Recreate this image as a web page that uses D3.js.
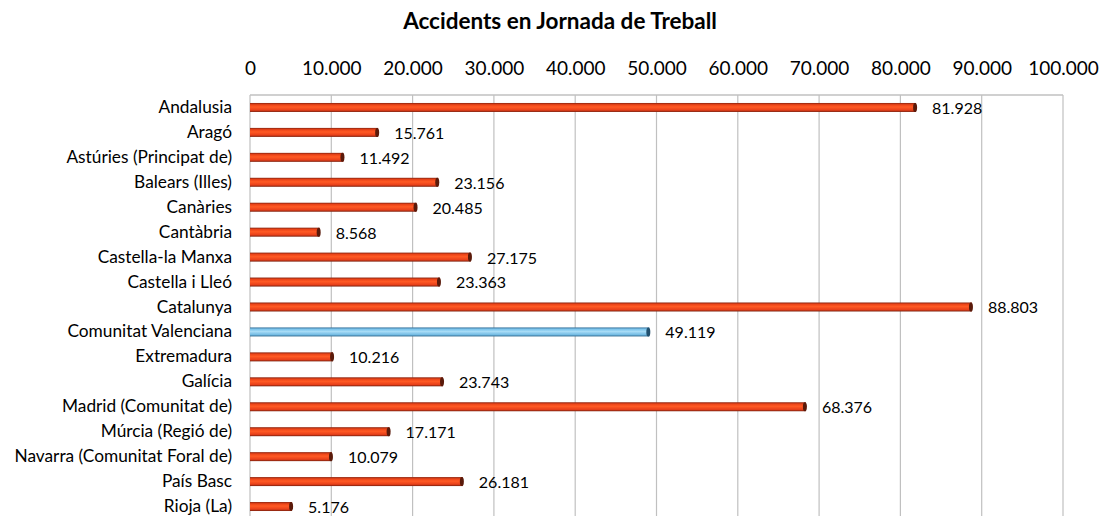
<!DOCTYPE html>
<html lang="ca">
<head>
  <meta charset="UTF-8">
  <title>Accidents en Jornada de Treball</title>
  <script src="https://d3js.org/d3.v7.min.js"></script>
  <style>
    body { margin: 0; background: #fff; }
    text { font-family: Lato, "Open Sans", sans-serif; fill: #000; }
  </style>
</head>
<body>
<script>
  const regions = ["Andalusia", "Aragó", "Astúries (Principat de)", "Balears (Illes)", "Canàries",
    "Cantàbria", "Castella-la Manxa", "Castella i Lleó", "Catalunya", "Comunitat Valenciana",
    "Extremadura", "Galícia", "Madrid (Comunitat de)", "Múrcia (Regió de)",
    "Navarra (Comunitat Foral de)", "País Basc", "Rioja (La)"];
  const accidents = [81928, 15761, 11492, 23156, 20485, 8568, 27175, 23363, 88803, 49119,
    10216, 23743, 68376, 17171, 10079, 26181, 5176];
  const highlight = "Comunitat Valenciana";
  const ticks = [0, 10000, 20000, 30000, 40000, 50000, 60000, 70000, 80000, 90000, 100000];

  const width = 1103, height = 516;
  const margin = {top: 95, left: 250, right: 40};
  const rowH = 24.94;
  const plotH = rowH * regions.length;

  const fmt = v => d3.format(",")(v).replace(/,/g, ".");

  const svg = d3.select("body").append("svg")
    .attr("width", width)
    .attr("height", height);

  const defs = svg.append("defs");
  function grad(id, stops) {
    const g = defs.append("linearGradient").attr("id", id)
      .attr("x1", 0).attr("y1", 0).attr("x2", 0).attr("y2", 1);
    stops.forEach(s => g.append("stop").attr("offset", s[0]).attr("stop-color", s[1]));
  }
  grad("gRed", [[0, "#8a2410"], [0.2, "#ec4418"], [0.45, "#ff5a24"], [0.8, "#e8401a"], [1, "#7a200e"]]);
  grad("gBlue", [[0, "#35729b"], [0.2, "#7cc4ec"], [0.45, "#a8dcf6"], [0.8, "#74bce4"], [1, "#2f6a90"]]);

  const x = d3.scaleLinear()
    .domain([0, 100000])
    .range([margin.left, width - margin.right]);

  const y = d3.scaleBand()
    .domain(regions)
    .range([margin.top, margin.top + plotH]);

  svg.append("text")
    .attr("x", 560)
    .attr("y", 29)
    .attr("text-anchor", "middle")
    .style("font-size", "22.5px")
    .style("font-weight", "bold")
    .text("Accidents en Jornada de Treball");

  // gridlines
  svg.append("g")
    .selectAll("line")
    .data(ticks)
    .join("line")
    .attr("x1", d => x(d)).attr("x2", d => x(d))
    .attr("y1", margin.top).attr("y2", margin.top + plotH)
    .attr("stroke", "#c0c0c0")
    .attr("stroke-width", 1.2);

  svg.append("line")
    .attr("x1", x(0)).attr("x2", x(100000))
    .attr("y1", margin.top).attr("y2", margin.top)
    .attr("stroke", "#c0c0c0")
    .attr("stroke-width", 1.5);

  // top axis labels
  const axis = d3.axisTop(x)
    .tickValues(ticks)
    .tickFormat(fmt)
    .tickSize(0)
    .tickPadding(0);

  const ax = svg.append("g")
    .attr("transform", "translate(0,75)")
    .call(axis);
  ax.select(".domain").remove();
  ax.selectAll("text")
    .style("font-size", "19px")
    .attr("fill", "#000");

  // category labels
  const ay = svg.append("g")
    .attr("transform", `translate(${margin.left - 18},0)`)
    .call(d3.axisLeft(y).tickSize(0).tickPadding(0));
  ay.select(".domain").remove();
  ay.selectAll("text")
    .style("font-size", "17.3px")
    .attr("fill", "#000");

  const barH = 9;
  const bars = svg.append("g")
    .selectAll("g")
    .data(regions.map((r, i) => ({region: r, value: accidents[i]})))
    .join("g")
    .attr("transform", d => `translate(0,${y(d.region) + y.bandwidth() / 2 - barH / 2})`);

  bars.append("rect")
    .attr("x", x(0))
    .attr("y", 0)
    .attr("width", d => x(d.value) - x(0))
    .attr("height", barH)
    .attr("fill", d => d.region === highlight ? "url(#gBlue)" : "url(#gRed)");

  // dark end cap
  bars.append("ellipse")
    .attr("cx", d => x(d.value) - 1)
    .attr("cy", barH / 2)
    .attr("rx", 2)
    .attr("ry", barH / 2)
    .attr("fill", d => d.region === highlight ? "#22506e" : "#5a1a0a");

  bars.append("text")
    .attr("x", d => x(d.value) + 16)
    .attr("y", barH / 2)
    .attr("dy", "0.4em")
    .style("font-size", "16px")
    .text(d => fmt(d.value));
</script>
</body>
</html>
